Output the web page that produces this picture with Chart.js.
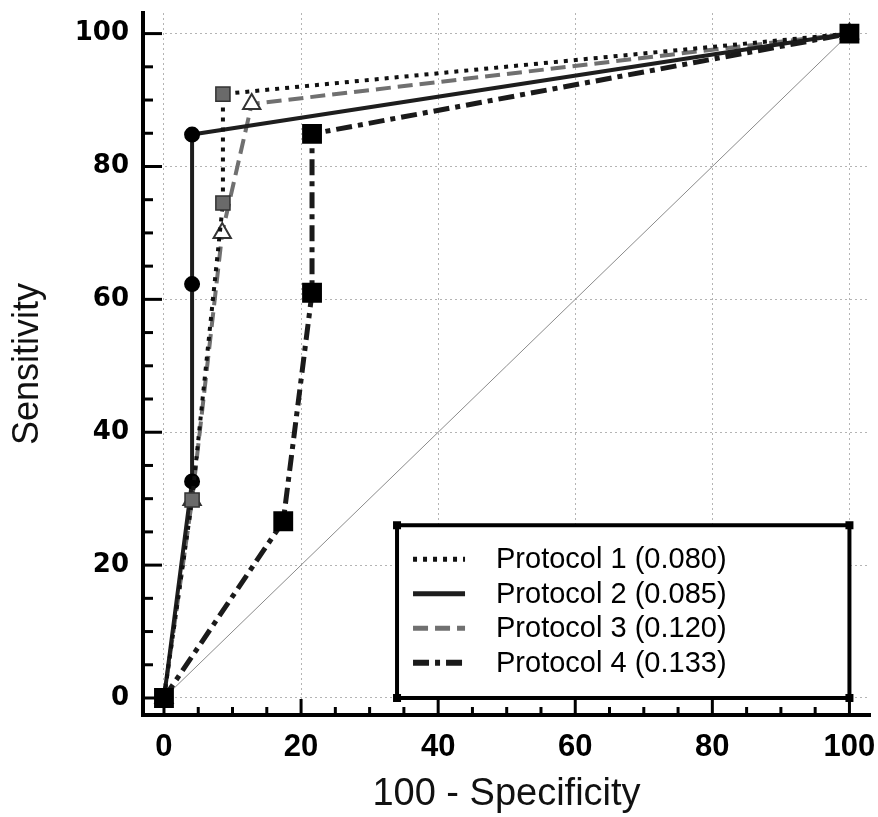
<!DOCTYPE html>
<html>
<head>
<meta charset="utf-8">
<script src="https://cdn.jsdelivr.net/npm/chart.js@4.4.1/dist/chart.umd.min.js"></script>
<style>
  html, body { margin: 0; padding: 0; background: #fff; }
  #wrap { width: 878px; height: 817px; }
</style>
</head>
<body>
<div id="wrap"><canvas id="rocChart" width="878" height="817"></canvas></div>
<script>
// ROC curves, values
const protocolNames = ['Protocol 1 (0.080)', 'Protocol 2 (0.085)', 'Protocol 3 (0.120)', 'Protocol 4 (0.133)'];

const p1X = [0, 4.1, 8.6, 8.6, 100];
const p1Y = [0, 29.8, 74.5, 90.9, 100];

const p2X = [0, 4.1, 4.1, 4.1, 100];
const p2Y = [0, 32.6, 62.3, 84.8, 100];

const p3X = [0, 4.1, 8.5, 12.8, 100];
const p3Y = [0, 29.8, 70, 89.4, 100];

const p4X = [0, 17.4, 21.6, 21.6, 100];
const p4Y = [0, 26.6, 61, 84.9, 100];

const refX = [0, 100];
const refY = [0, 100];

const tickValues = [0, 20, 40, 60, 80, 100];

function toPoints(xs, ys) {
  return xs.map((x, i) => ({ x: x, y: ys[i] }));
}

const ctx = document.getElementById('rocChart').getContext('2d');

// small ticks pointing into the plot
const inwardTicks = {
  id: 'inwardTicks',
  beforeDatasetsDraw(chart) {
    const { ctx, scales: { x, y }, chartArea } = chart;
    ctx.save();
    ctx.strokeStyle = '#000';
    ctx.lineWidth = 3;
    for (let v = 0; v <= 100; v += 5) {
      const major = v % 20 === 0;
      const px = x.getPixelForValue(v);
      ctx.beginPath();
      ctx.moveTo(px, chartArea.bottom);
      ctx.lineTo(px, chartArea.bottom - (major ? 16 : 8));
      ctx.stroke();
      const py = y.getPixelForValue(v);
      ctx.beginPath();
      ctx.moveTo(chartArea.left, py);
      ctx.lineTo(chartArea.left + (major ? 19 : 10), py);
      ctx.stroke();
    }
    ctx.restore();
  }
};

// boxed legend in the lower right corner
const boxLegend = {
  id: 'boxLegend',
  afterDatasetsDraw(chart) {
    const { ctx, scales: { x, y } } = chart;
    const left = x.getPixelForValue(34);
    const right = x.getPixelForValue(100);
    const top = y.getPixelForValue(26);
    const bottom = y.getPixelForValue(0);
    ctx.save();
    ctx.fillStyle = '#fff';
    ctx.fillRect(left, top, right - left, bottom - top);
    ctx.strokeStyle = '#000';
    ctx.lineWidth = 4;
    ctx.strokeRect(left, top, right - left, bottom - top);
    ctx.fillStyle = '#000';
    [[left, top], [right, top], [left, bottom], [right, bottom]].forEach(([cx, cy]) => {
      ctx.fillRect(cx - 4, cy - 4, 8, 8);
    });

    const rowH = 34.5;
    const firstY = top + 34;
    for (let i = 0; i < 4; i++) {
      const ds = chart.data.datasets[i];
      const ry = firstY + i * rowH;
      ctx.beginPath();
      ctx.strokeStyle = ds.borderColor;
      ctx.lineWidth = ds.borderWidth + 1;
      ctx.setLineDash(ds.borderDash || []);
      ctx.moveTo(left + 16, ry);
      ctx.lineTo(left + 68, ry);
      ctx.stroke();
      ctx.setLineDash([]);
      ctx.fillStyle = '#000';
      ctx.font = '29px "Liberation Sans", Arial, sans-serif';
      ctx.textBaseline = 'middle';
      ctx.textAlign = 'left';
      ctx.fillText(protocolNames[i], left + 99, ry + 1);
    }
    ctx.restore();
  }
};

const rocChart = new Chart(ctx, {
  type: 'scatter',
  data: {
    datasets: [
      {
        label: protocolNames[0],
        data: toPoints(p1X, p1Y),
        showLine: true,
        borderColor: '#111',
        borderWidth: 4,
        borderDash: [4, 6],
        pointStyle: 'rect',
        pointRadius: 10,
        pointBackgroundColor: '#6a6a6a',
        pointBorderColor: '#333',
        pointBorderWidth: 1.5,
        order: 2
      },
      {
        label: protocolNames[1],
        data: toPoints(p2X, p2Y),
        showLine: true,
        borderColor: '#1e1e1e',
        borderWidth: 4,
        pointStyle: 'circle',
        pointRadius: 6,
        pointBackgroundColor: '#000',
        pointBorderColor: '#000',
        order: 3
      },
      {
        label: protocolNames[2],
        data: toPoints(p3X, p3Y),
        showLine: true,
        borderColor: '#707070',
        borderWidth: 4,
        borderDash: [15, 7],
        pointStyle: 'triangle',
        pointRadius: 10,
        pointBackgroundColor: '#fff',
        pointBorderColor: '#333',
        pointBorderWidth: 2,
        order: 4
      },
      {
        label: protocolNames[3],
        data: toPoints(p4X, p4Y),
        showLine: true,
        borderColor: '#1a1a1a',
        borderWidth: 5,
        borderDash: [16, 6, 5, 6],
        pointStyle: 'rect',
        pointRadius: 10.5,
        pointBackgroundColor: '#000',
        pointBorderColor: '#000',
        order: 1
      },
      {
        label: 'reference',
        data: toPoints(refX, refY),
        showLine: true,
        borderColor: '#8a8a8a',
        borderWidth: 1,
        pointRadius: 0,
        order: 10
      }
    ]
  },
  options: {
    responsive: false,
    animation: false,
    layout: { autoPadding: false, padding: { top: 13, right: 8, left: 0, bottom: 0 } },
    plugins: {
      legend: { display: false },
      tooltip: { enabled: false }
    },
    scales: {
      x: {
        type: 'linear',
        min: -3.06,
        max: 103,
        afterBuildTicks: (scale) => { scale.ticks = tickValues.map(v => ({ value: v })); },
        afterFit: (scale) => {
          scale.height = 102;
          scale.paddingLeft = 0;
          scale.paddingRight = 0;
        },
        grid: { color: '#b4b4b4', lineWidth: 1, drawTicks: false },
        border: { display: true, color: '#000', width: 4, dash: [2, 3] },
        ticks: {
          color: '#000',
          padding: 14,
          font: { family: '"Liberation Sans", Arial, sans-serif', size: 31, weight: 'bold' }
        },
        title: {
          display: true,
          text: '100 - Specificity',
          color: '#111',
          padding: { top: 0, bottom: 0 },
          font: { family: '"Liberation Sans", Arial, sans-serif', size: 38 }
        }
      },
      y: {
        type: 'linear',
        min: -2.56,
        max: 103.1,
        afterBuildTicks: (scale) => { scale.ticks = tickValues.map(v => ({ value: v })); },
        afterFit: (scale) => {
          scale.width = 143;
          scale.paddingTop = 0;
          scale.paddingBottom = 0;
        },
        grid: { color: '#b4b4b4', lineWidth: 1, drawTicks: false },
        border: { display: true, color: '#000', width: 4, dash: [2, 3] },
        ticks: {
          color: '#000',
          padding: 14,
          font: { family: '"DejaVu Sans", sans-serif', size: 26, weight: 'bold' }
        },
        title: {
          display: true,
          text: 'Sensitivity',
          color: '#111',
          padding: { top: 6, bottom: 0 },
          font: { family: '"Liberation Sans", Arial, sans-serif', size: 36 }
        }
      }
    }
  },
  plugins: [inwardTicks, boxLegend]
});
</script>
</body>
</html>
